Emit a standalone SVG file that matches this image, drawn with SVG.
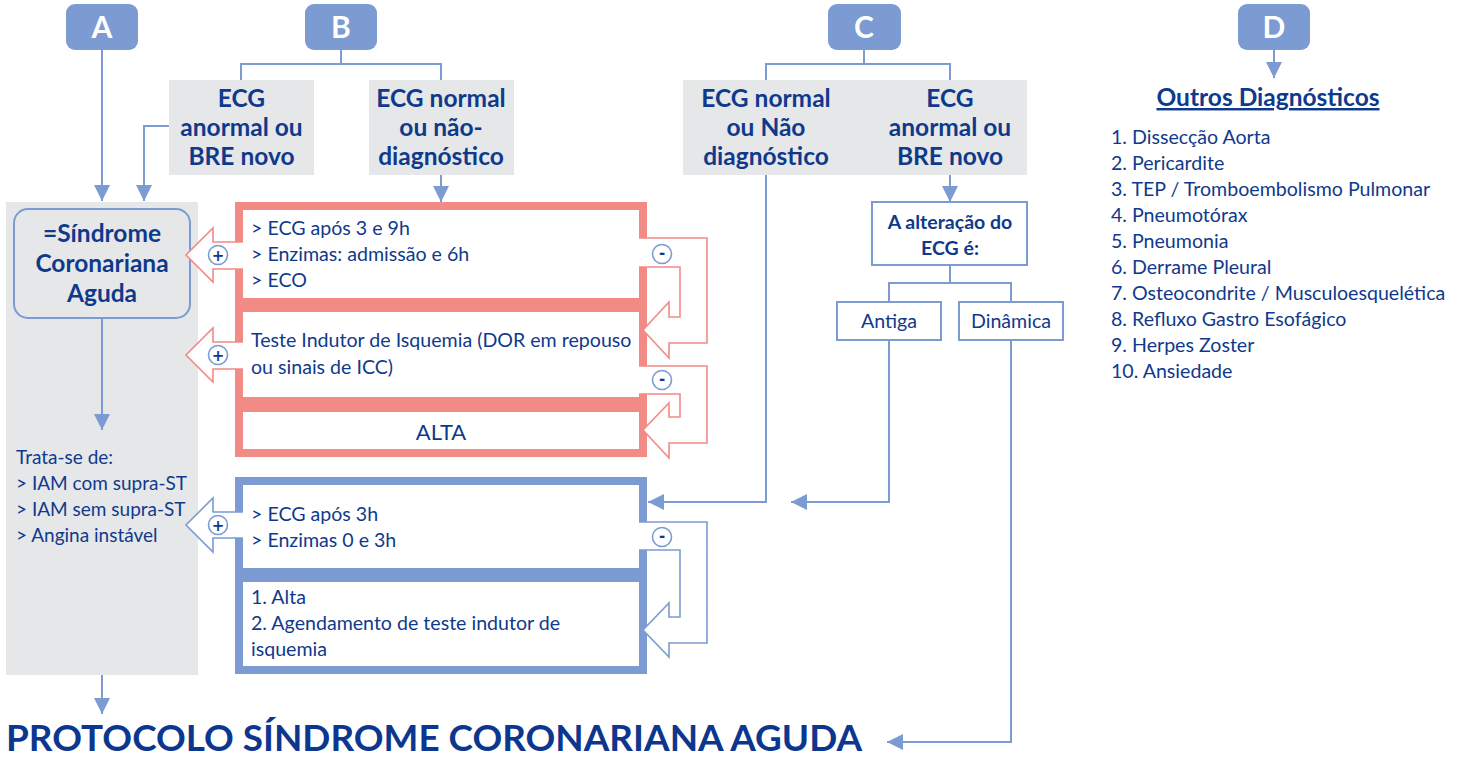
<svg xmlns="http://www.w3.org/2000/svg" width="1460" height="758" viewBox="0 0 1460 758">
<style>
.lb{fill:#7b9bd2}
.lt{font-family:Lato,"Liberation Sans",sans-serif;font-weight:bold;font-size:30px;fill:#ffffff;text-anchor:middle}
.gb{fill:#e6e7e9}
.hb{font-family:Lato,"Liberation Sans",sans-serif;font-weight:bold;font-size:24.5px;fill:#0f3a8c;text-anchor:middle}
.tx{font-family:Lato,"Liberation Sans",sans-serif;font-size:19.6px;fill:#0f3a8c}
.tc{font-family:Lato,"Liberation Sans",sans-serif;font-size:19.6px;fill:#0f3a8c;text-anchor:middle}
.tb{font-family:Lato,"Liberation Sans",sans-serif;font-weight:bold;font-size:19.5px;fill:#0f3a8c;text-anchor:middle}
.cn{fill:none;stroke:#7b9bd2;stroke-width:2}
.bx{fill:#ffffff;stroke:#7b9bd2;stroke-width:2}
.ra{fill:#ffffff;stroke:#f28a85;stroke-width:1.6}
.ba{fill:#ffffff;stroke:#7b9bd2;stroke-width:1.6}
.ci{fill:#ffffff;stroke:#7b9bd2;stroke-width:1.6}
.sg{font-family:"DejaVu Sans",sans-serif;font-weight:bold;font-size:15px;fill:#0f3a8c;text-anchor:middle}
</style>
<defs>
<marker id="ah" viewBox="0 0 16 16" refX="16" refY="8" markerWidth="16" markerHeight="16" orient="auto" markerUnits="userSpaceOnUse">
<path d="M0,0 L16,8 L0,16 z" fill="#7b9bd2"/>
</marker>
</defs>

<g id="panelA">
<rect class="gb" x="6" y="202" width="192" height="473"/>
</g>

<g id="boxA"><rect class="lb" x="66" y="4" width="72" height="46" rx="9"/><text class="lt" x="102" y="38">A</text></g>
<g id="boxB"><rect class="lb" x="305" y="4" width="72" height="46" rx="9"/><text class="lt" x="341" y="38">B</text></g>
<g id="boxC"><rect class="lb" x="828" y="4" width="73" height="46" rx="9"/><text class="lt" x="864" y="38">C</text></g>
<g id="boxD"><rect class="lb" x="1238" y="4" width="72" height="46" rx="9"/><text class="lt" x="1274" y="38">D</text></g>

<g id="connectors">
<path class="cn" d="M102,50 V201" marker-end="url(#ah)"/>
<path class="cn" d="M241,80 V64 H441 V80 M341,50 V64"/>
<path class="cn" d="M169,126 H144 V201" marker-end="url(#ah)"/>
<path class="cn" d="M441,175 V202" marker-end="url(#ah)"/>
<path class="cn" d="M102,318 V430" marker-end="url(#ah)"/>
<path class="cn" d="M102,675 V714" marker-end="url(#ah)"/>
<path class="cn" d="M766,80 V64 H950 V80 M864,50 V64"/>
<path class="cn" d="M766,175 V502 H648" marker-end="url(#ah)"/>
<path class="cn" d="M950,175 V202" marker-end="url(#ah)"/>
<path class="cn" d="M950,265 V283 M889,302 V283 H1011 V302"/>
<path class="cn" d="M889,340 V502 H791" marker-end="url(#ah)"/>
<path class="cn" d="M1011,340 V742 H887" marker-end="url(#ah)"/>
<path class="cn" d="M1274,50 V78" marker-end="url(#ah)"/>
</g>

<g id="ecgB1">
<rect class="gb" x="169" y="80" width="145" height="95"/>
<text class="hb" x="241.5" y="107">ECG</text>
<text class="hb" x="241.5" y="136">anormal ou</text>
<text class="hb" x="241.5" y="165">BRE novo</text>
</g>
<g id="ecgB2">
<rect class="gb" x="369" y="80" width="145" height="95"/>
<text class="hb" x="441" y="107">ECG normal</text>
<text class="hb" x="441" y="136">ou não-</text>
<text class="hb" x="441" y="165">diagnóstico</text>
</g>
<g id="ecgC">
<rect class="gb" x="683" y="80" width="344" height="95"/>
<text class="hb" x="766" y="107">ECG normal</text>
<text class="hb" x="766" y="136">ou Não</text>
<text class="hb" x="766" y="165">diagnóstico</text>
<text class="hb" x="950" y="107">ECG</text>
<text class="hb" x="950" y="136">anormal ou</text>
<text class="hb" x="950" y="165">BRE novo</text>
</g>

<g id="sca">
<rect x="14" y="209" width="176" height="109" rx="14" fill="#e6e7e9" stroke="#7b9bd2" stroke-width="2"/>
<text class="hb" x="102" y="242">=Síndrome</text>
<text class="hb" x="102" y="272">Coronariana</text>
<text class="hb" x="102" y="302">Aguda</text>
</g>

<g id="trata">
<text class="tx" x="16" y="464" style="font-size:19px">Trata-se de:</text>
<text class="tx" x="16" y="490" style="font-size:19px">&gt; IAM com supra-ST</text>
<text class="tx" x="16" y="516" style="font-size:19px">&gt; IAM sem supra-ST</text>
<text class="tx" x="16" y="542" style="font-size:19px">&gt; Angina instável</text>
</g>

<g id="redBlock">
<rect x="235" y="202" width="412" height="255" fill="#f28a85"/>
<rect x="243" y="210" width="396" height="88" fill="#ffffff"/>
<rect x="243" y="312" width="396" height="85" fill="#ffffff"/>
<rect x="243" y="412" width="396" height="37" fill="#ffffff"/>
<path class="ra" d="M243,242 H213 V228 L186,255 L213,282 V269 H243"/>
<circle class="ci" cx="218" cy="255" r="9.5"/><text class="sg" x="218" y="260.5">+</text>
<path class="ra" d="M243,342 H213 V328 L186,355 L213,382 V369 H243"/>
<circle class="ci" cx="218" cy="355" r="9.5"/><text class="sg" x="218" y="360.5">+</text>
<path class="ra" d="M639,238 H707 V343 H669 V358 L643,330 L669,302 V317 H680 V267 H639"/>
<circle class="ci" cx="662" cy="254" r="9.5"/><text class="sg" x="662" y="258">-</text>
<path class="ra" d="M639,366 H707 V443 H669 V458 L643,430 L669,403 V417 H680 V394 H639"/>
<circle class="ci" cx="662" cy="380" r="9.5"/><text class="sg" x="662" y="384">-</text>
<text class="tx" x="251" y="235">&gt; ECG após 3 e 9h</text>
<text class="tx" x="251" y="261">&gt; Enzimas: admissão e 6h</text>
<text class="tx" x="251" y="287">&gt; ECO</text>
<text class="tx" x="251" y="347">Teste Indutor de Isquemia (DOR em repouso</text>
<text class="tx" x="251" y="374">ou sinais de ICC)</text>
<text class="tc" x="441" y="440" style="font-size:22px">ALTA</text>
</g>

<g id="blueBlock">
<rect x="235" y="477" width="412" height="197" fill="#7b9bd2"/>
<rect x="243" y="485" width="396" height="83" fill="#ffffff"/>
<rect x="243" y="582" width="396" height="84" fill="#ffffff"/>
<path class="ba" d="M243,512 H213 V498 L186,525 L213,552 V538 H243"/>
<circle class="ci" cx="218" cy="525" r="9.5"/><text class="sg" x="218" y="530.5">+</text>
<path class="ba" d="M639,522 H707 V643 H669 V657 L643,630 L669,603 V617 H680 V550 H639"/>
<circle class="ci" cx="662" cy="537" r="9.5"/><text class="sg" x="662" y="541">-</text>
<text class="tx" x="251" y="521">&gt; ECG após 3h</text>
<text class="tx" x="251" y="547">&gt; Enzimas 0 e 3h</text>
<text class="tx" x="251" y="604">1. Alta</text>
<text class="tx" x="251" y="630">2. Agendamento de teste indutor de</text>
<text class="tx" x="251" y="656">isquemia</text>
</g>

<g id="alteracao">
<rect class="bx" x="872" y="202" width="155" height="63"/>
<text class="tb" x="950" y="229">A alteração do</text>
<text class="tb" x="950" y="255">ECG é:</text>
</g>
<g id="antiga">
<rect class="bx" x="837" y="302" width="104" height="38"/>
<text class="tc" x="889" y="328">Antiga</text>
</g>
<g id="dinamica">
<rect class="bx" x="959" y="302" width="104" height="38"/>
<text class="tc" x="1011" y="328">Dinâmica</text>
</g>

<g id="outros">
<text class="hb" x="1268" y="106" text-decoration="underline">Outros Diagnósticos</text>
<text class="tx" x="1111" y="144">1. Dissecção Aorta</text>
<text class="tx" x="1111" y="170">2. Pericardite</text>
<text class="tx" x="1111" y="196">3. TEP / Tromboembolismo Pulmonar</text>
<text class="tx" x="1111" y="222">4. Pneumotórax</text>
<text class="tx" x="1111" y="248">5. Pneumonia</text>
<text class="tx" x="1111" y="274">6. Derrame Pleural</text>
<text class="tx" x="1111" y="300">7. Osteocondrite / Musculoesquelética</text>
<text class="tx" x="1111" y="326">8. Refluxo Gastro Esofágico</text>
<text class="tx" x="1111" y="352">9. Herpes Zoster</text>
<text class="tx" x="1111" y="378">10. Ansiedade</text>
</g>

<g id="title">
<text x="6" y="751" textLength="856" lengthAdjust="spacingAndGlyphs" style="font-family:Lato,'Liberation Sans',sans-serif;font-weight:bold;font-size:36px;fill:#0d378f">PROTOCOLO SÍNDROME CORONARIANA AGUDA</text>
</g>
</svg>
